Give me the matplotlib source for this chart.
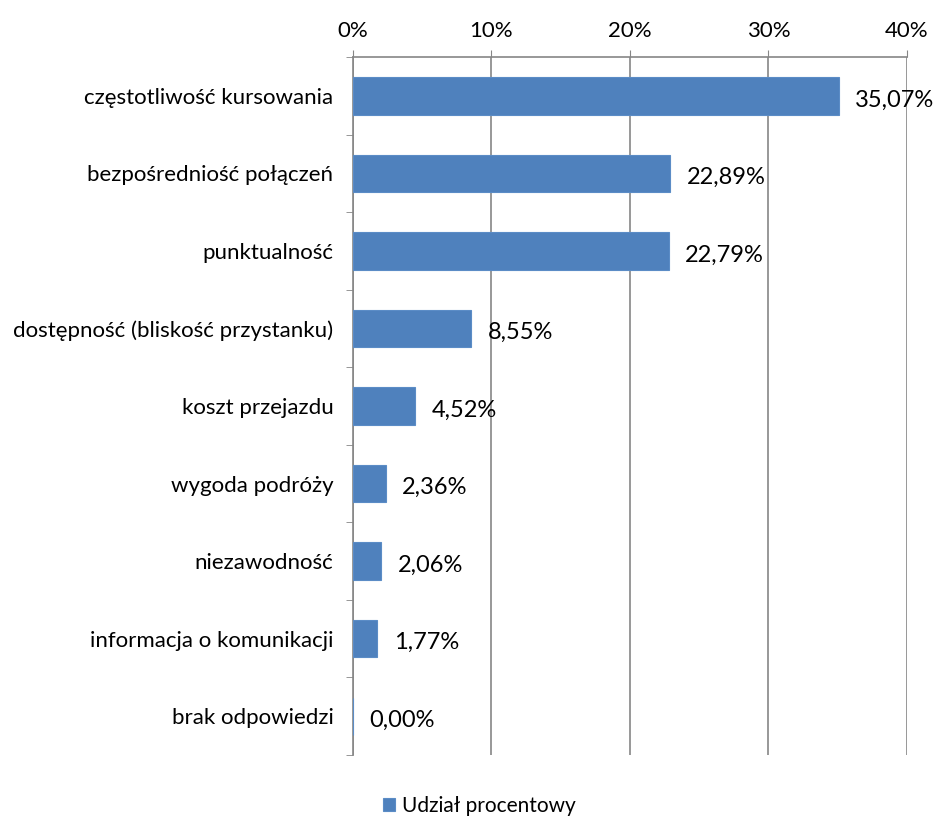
import matplotlib
matplotlib.use("Agg")
from matplotlib import pyplot as plt
from matplotlib.ticker import FixedLocator, FuncFormatter

categories = [
    "częstotliwość kursowania",
    "bezpośredniość połączeń",
    "punktualność",
    "dostępność (bliskość przystanku)",
    "koszt przejazdu",
    "wygoda podróży",
    "niezawodność",
    "informacja o komunikacji",
    "brak odpowiedzi",
]
shares = [35.07, 22.89, 22.79, 8.55, 4.52, 2.36, 2.06, 1.77, 0.00]
x_ticks = [0, 10, 20, 30, 40]

bar_color = "#4F81BD"
grid_color = "#868686"

plt.rcParams["font.family"] = ["Lato", "DejaVu Sans"]

fig = plt.figure(figsize=(9.36, 8.17), dpi=100)
ax = fig.add_axes([0.377, 0.076, 0.592, 0.854])

y = list(range(len(categories)))
ax.barh(y, shares, height=0.48, color=bar_color, edgecolor="#5B8CC6",
        linewidth=0.8, zorder=3, label="Udział procentowy")

for yi, v in zip(y, shares):
    ax.annotate(f"{v:.2f}%".replace(".", ","), (v, yi), xytext=(12, -3),
                textcoords="offset points", va="center", ha="left",
                fontsize=17, color="black", zorder=4)

ax.set_xlim(0, 40)
ax.set_ylim(len(categories) - 0.5, -0.5)

ax.xaxis.tick_top()
ax.xaxis.set_major_locator(FixedLocator(x_ticks))
ax.xaxis.set_major_formatter(FuncFormatter(lambda v, p: f"{v:.0f}%"))
ax.tick_params(axis="x", which="major", length=5, color=grid_color,
               labelsize=16, pad=7)

ax.set_yticks(y)
ax.set_yticklabels(categories)
ax.set_yticks([i - 0.5 for i in range(len(categories) + 1)], minor=True)
ax.tick_params(axis="y", which="major", length=0, labelsize=16, pad=14)
ax.tick_params(axis="y", which="minor", length=5, color=grid_color)

ax.grid(axis="x", color=grid_color, linewidth=1.2, zorder=0)
for side in ("right", "bottom"):
    ax.spines[side].set_visible(False)
for side in ("top", "left"):
    ax.spines[side].set_color(grid_color)
    ax.spines[side].set_linewidth(1.2)

fig.legend(loc="lower center", bbox_to_anchor=(0.512, -0.022), frameon=False,
           fontsize=15, handlelength=0.6, handleheight=0.6, handletextpad=0.3)

fig.savefig("out.png", dpi=100)
